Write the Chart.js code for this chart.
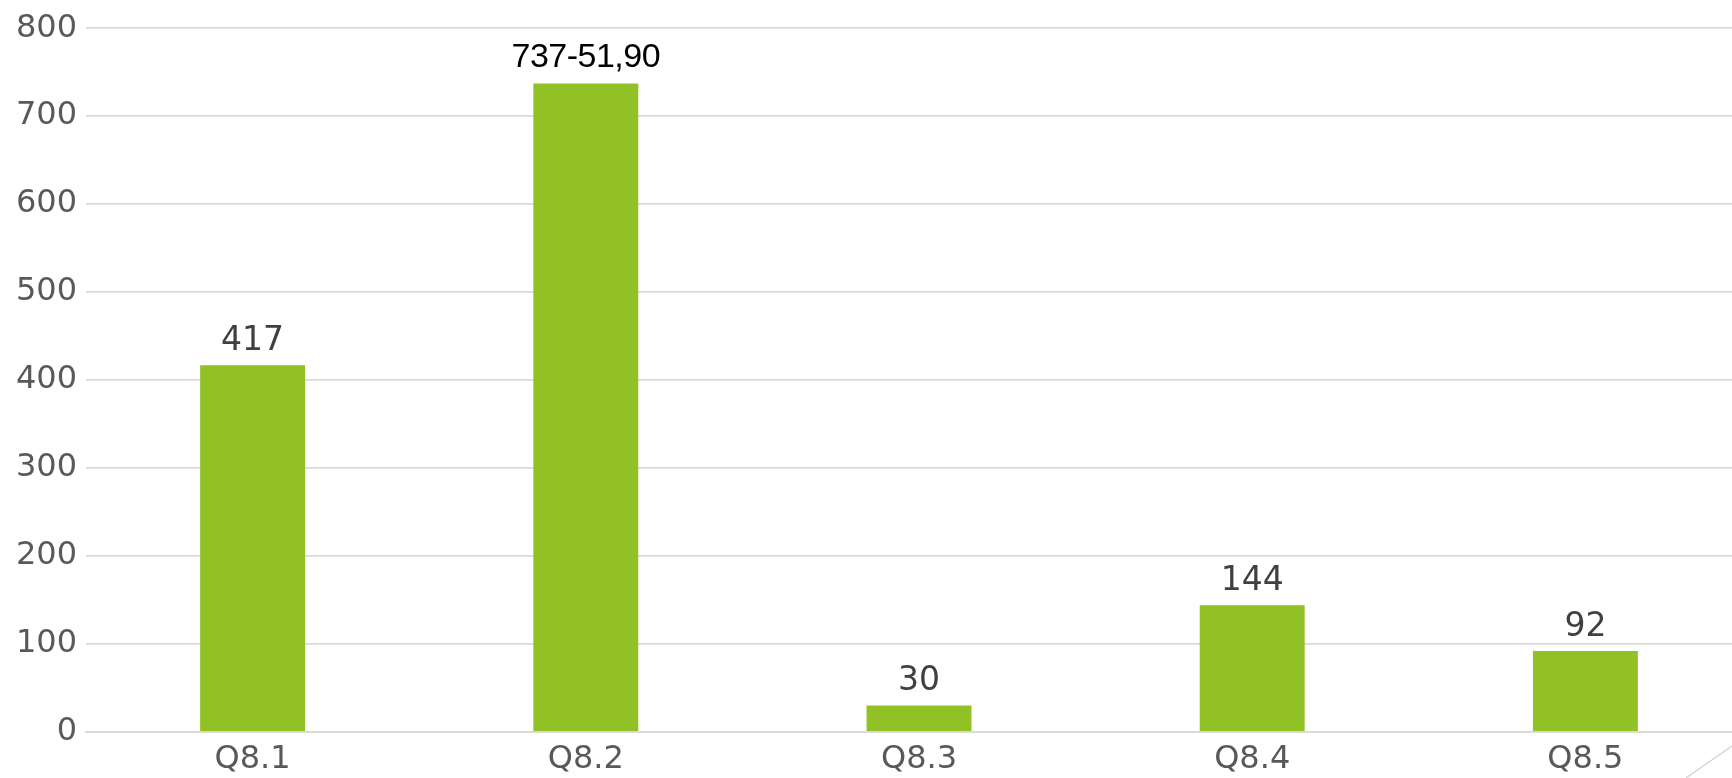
<!DOCTYPE html>
<html>
<head>
<meta charset="utf-8">
<script src="https://cdn.jsdelivr.net/npm/chart.js@4/dist/chart.umd.min.js"></script>
<style>
  html, body { margin: 0; padding: 0; background: #fff; overflow: hidden; }
  #wrap { position: relative; width: 1752px; height: 778px; }
</style>
</head>
<body>
<div id="wrap"><canvas id="bar-chart"></canvas></div>
<script>
var categories = ["Q8.1", "Q8.2", "Q8.3", "Q8.4", "Q8.5"];
var values = [417, 737, 30, 144, 92];
var valueLabels = ["417", "737-51,90", "30", "144", "92"];
var yTicks = [0, 100, 200, 300, 400, 500, 600, 700, 800];

// labels above the bars, the second one was typed in by hand in the original
var barLabels = {
    id: "barLabels",
    afterDatasetsDraw: function (chart) {
        var c = chart.ctx;
        var meta = chart.getDatasetMeta(0);
        c.save();
        c.textAlign = "center";
        c.textBaseline = "alphabetic";
        meta.data.forEach(function (bar, i) {
            if (i === 1) {
                c.font = "34px 'Liberation Sans'";
                c.letterSpacing = "-0.5px";
                c.fillStyle = "#000000";
                c.fillText(valueLabels[i], bar.x, bar.y - 17);
            } else {
                c.font = "33px 'DejaVu Sans'";
                c.letterSpacing = "0px";
                c.fillStyle = "#404040";
                c.fillText(valueLabels[i], bar.x, bar.y - 15.5);
            }
        });
        c.restore();
    }
};

// little corner stroke at the bottom right
var cornerLine = {
    id: "cornerLine",
    afterDraw: function (chart) {
        var c = chart.ctx;
        c.save();
        c.strokeStyle = "#d0d0d0";
        c.lineWidth = 1.2;
        c.beginPath();
        c.moveTo(1686, 778);
        c.lineTo(1732, 746);
        c.stroke();
        c.restore();
    }
};

var ctx = document.getElementById("bar-chart").getContext("2d");

new Chart(ctx, {
    type: "bar",
    data: {
        labels: categories,
        datasets: [{
            data: values,
            backgroundColor: "#92c126",
            borderWidth: 0,
            barPercentage: 1,
            categoryPercentage: 0.315
        }]
    },
    options: {
        responsive: true,
        maintainAspectRatio: false,
        animation: false,
        layout: { padding: { top: 9, left: 0, right: 0, bottom: 0 } },
        plugins: {
            legend: { display: false },
            tooltip: { enabled: false }
        },
        scales: {
            y: {
                min: 0,
                max: 800,
                afterBuildTicks: function (scale) {
                    scale.ticks = yTicks.map(function (v) { return { value: v }; });
                },
                afterFit: function (scale) { scale.width = 86; },
                border: { display: false },
                grid: {
                    color: "#d9d9d9",
                    lineWidth: 1.8,
                    drawTicks: false
                },
                ticks: {
                    padding: 9,
                    color: "#595959",
                    font: { size: 32, family: "DejaVu Sans" }
                }
            },
            x: {
                afterFit: function (scale) { scale.height = 46; },
                border: { display: true, color: "#d9d9d9", width: 1.8 },
                grid: { display: false, drawTicks: false },
                ticks: {
                    padding: 8,
                    color: "#595959",
                    font: { size: 32, family: "DejaVu Sans" }
                }
            }
        }
    },
    plugins: [barLabels, cornerLine]
});
</script>
</body>
</html>
